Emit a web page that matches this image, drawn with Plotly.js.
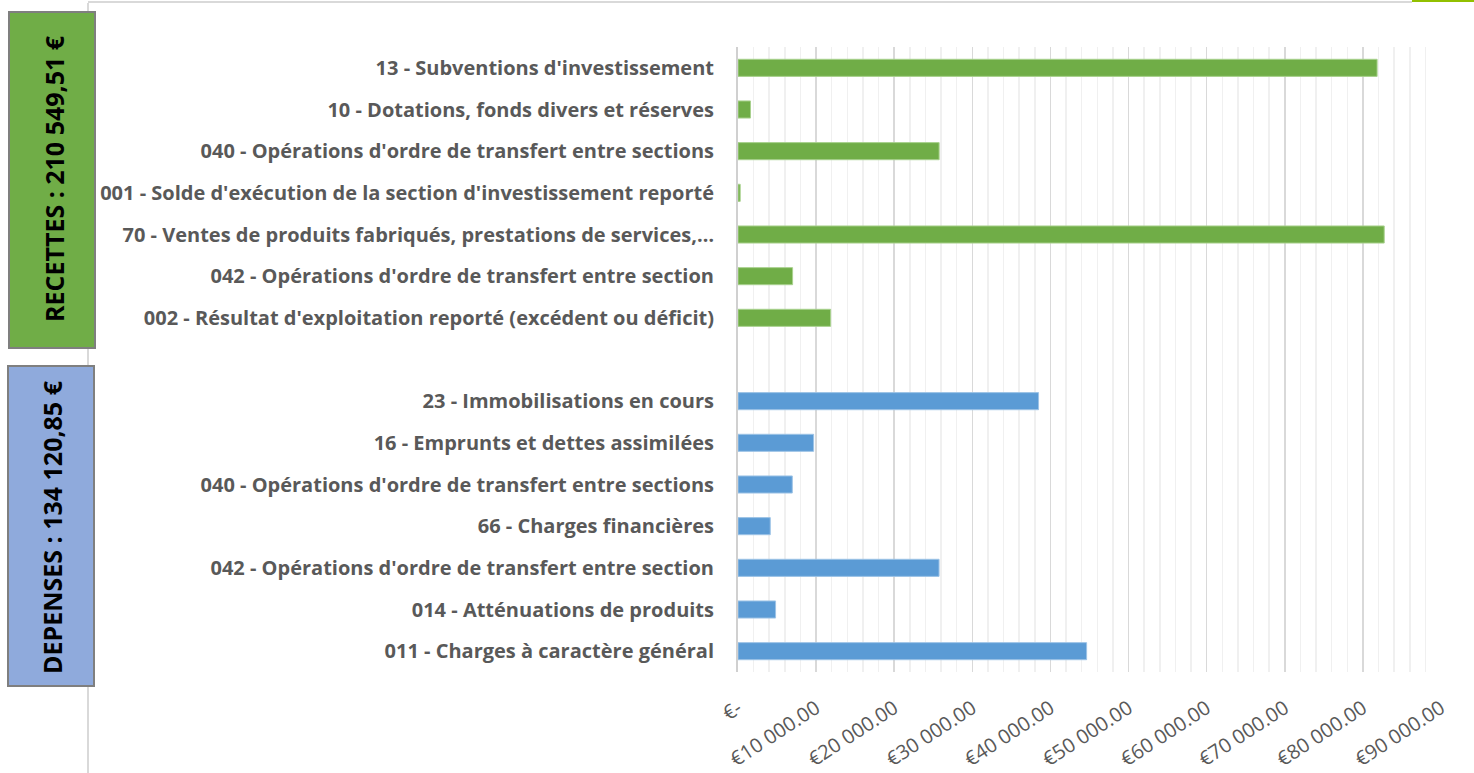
<!DOCTYPE html>
<html>
<head>
<meta charset="utf-8">
<script src="https://cdn.plot.ly/plotly-3.0.1.min.js"></script>
<style>
html,body{margin:0;padding:0;background:#fff;}
#chart{width:1474px;height:773px;}
</style>
</head>
<body>
<div id="chart"></div>
<script>
// Categories, top to bottom
const recettesLabels = [
  "13 - Subventions d'investissement",
  "10 - Dotations, fonds divers et réserves",
  "040 - Opérations d'ordre de transfert entre sections",
  "001 - Solde d'exécution de la section d'investissement reporté",
  "70 - Ventes de produits fabriqués, prestations de services,…",
  "042 - Opérations d'ordre de transfert entre section",
  "002 - Résultat d'exploitation reporté (excédent ou déficit)"
];
const recettesValues = [81820, 1600, 25750, 280, 82730, 6990, 11860];

const depensesLabels = [
  "23 - Immobilisations en cours",
  "16 - Emprunts et dettes assimilées",
  "040 - Opérations d'ordre de transfert entre sections",
  "66 - Charges financières",
  "042 - Opérations d'ordre de transfert entre section",
  "014 - Atténuations de produits",
  "011 - Charges à caractère général"
];
const depensesValues = [38480, 9680, 6950, 4130, 25740, 4810, 44630];

const xTickValues = [0, 10000, 20000, 30000, 40000, 50000, 60000, 70000, 80000, 90000];
const xTickLabels = ["€-", "€10 000.00", "€20 000.00", "€30 000.00", "€40 000.00",
                     "€50 000.00", "€60 000.00", "€70 000.00", "€80 000.00", "€90 000.00"];

const recettesTitle = "RECETTES : 210 549,51 €";
const depensesTitle = "DEPENSES : 134 120,85 €";

// Row positions: recettes, one empty row, then dépenses
const recettesY = recettesLabels.map((_, i) => i);
const depensesY = depensesLabels.map((_, i) => recettesLabels.length + 1 + i);
const allY = recettesY.concat(depensesY);
const allLabels = recettesLabels.concat(depensesLabels);
const nRows = recettesLabels.length + 1 + depensesLabels.length;

const traces = [
  {type: 'bar', orientation: 'h', x: recettesValues, y: recettesY,
   marker: {color: '#70AD47', line: {color: '#A9D18E', width: 1}},
   hoverinfo: 'x', name: 'Recettes', width: 0.41},
  {type: 'bar', orientation: 'h', x: depensesValues, y: depensesY,
   marker: {color: '#5B9BD5', line: {color: '#9DC3E6', width: 1}},
   hoverinfo: 'x', name: 'Dépenses', width: 0.41}
];

const layout = {
  width: 1474, height: 773,
  margin: {l: 738, r: 33, t: 47, b: 101, pad: 0},
  paper_bgcolor: '#ffffff', plot_bgcolor: '#ffffff',
  showlegend: false,
  font: {family: 'Open Sans, sans-serif', color: '#595959'},
  xaxis: {
    range: [0, 90000], fixedrange: true,
    tickvals: xTickValues, ticktext: xTickLabels,
    tickangle: -33,
    tickfont: {size: 20, color: '#595959', family: 'Open Sans, sans-serif'},
    showgrid: true, gridcolor: '#D9D9D9', gridwidth: 1.5,
    minor: {dtick: 2000, tick0: 0, showgrid: true, gridcolor: '#F0F0F0', gridwidth: 1.5},
    zeroline: false, showline: false, ticks: '',
    ticklabelstandoff: 20
  },
  yaxis: {
    range: [nRows - 0.5, -0.5], fixedrange: true,
    tickvals: allY, ticktext: allLabels,
    tickfont: {size: 20, color: '#595959', family: 'Open Sans, sans-serif', weight: 'bold'},
    showgrid: false, zeroline: false,
    showline: true, linecolor: '#D0D0D0', linewidth: 2,
    ticks: '', ticklabelstandoff: 18
  },
  shapes: [
    // chart frame (cropped)
    {type: 'line', xref: 'paper', yref: 'paper', x0: -(738-88)/703, x1: -(738-88)/703,
     y0: -(101-0)/625, y1: (625+47-3)/625, line: {color: '#D9D9D9', width: 2}},
    {type: 'line', xref: 'paper', yref: 'paper', x0: -(738-88)/703, x1: (1412-738)/703,
     y0: (625+47-2)/625, y1: (625+47-2)/625, line: {color: '#D9D9D9', width: 2}},
    {type: 'rect', xref: 'paper', yref: 'paper', x0: (1412-738)/703, x1: (1474-738)/703,
     y0: (625+47-2)/625, y1: (625+47)/625, fillcolor: '#92C000', line: {width: 0}},
    // label boxes
    {type: 'rect', xref: 'paper', yref: 'paper', layer: 'above',
     x0: -(738-9)/703, x1: -(738-95)/703,
     y0: (672-348)/625, y1: (672-12)/625,
     fillcolor: '#70AD47', line: {color: '#7F7F7F', width: 2}},
    {type: 'rect', xref: 'paper', yref: 'paper', layer: 'above',
     x0: -(738-8)/703, x1: -(738-94)/703,
     y0: (672-686)/625, y1: (672-366)/625,
     fillcolor: '#8FAADC', line: {color: '#7F7F7F', width: 2}}
  ],
  annotations: [
    {xref: 'paper', yref: 'paper', x: -(738-54)/703, y: (672-179)/625,
     text: '<b>' + recettesTitle + '</b>', showarrow: false, textangle: -90,
     font: {size: 25, color: '#000000', family: 'Open Sans, sans-serif'},
     xanchor: 'center', yanchor: 'middle'},
    {xref: 'paper', yref: 'paper', x: -(738-52)/703, y: (672-527)/625,
     text: '<b>' + depensesTitle + '</b>', showarrow: false, textangle: -90,
     font: {size: 25, color: '#000000', family: 'Open Sans, sans-serif'},
     xanchor: 'center', yanchor: 'middle'}
  ]
};

Plotly.newPlot('chart', traces, layout, {displayModeBar: false, staticPlot: true});
</script>
</body>
</html>
